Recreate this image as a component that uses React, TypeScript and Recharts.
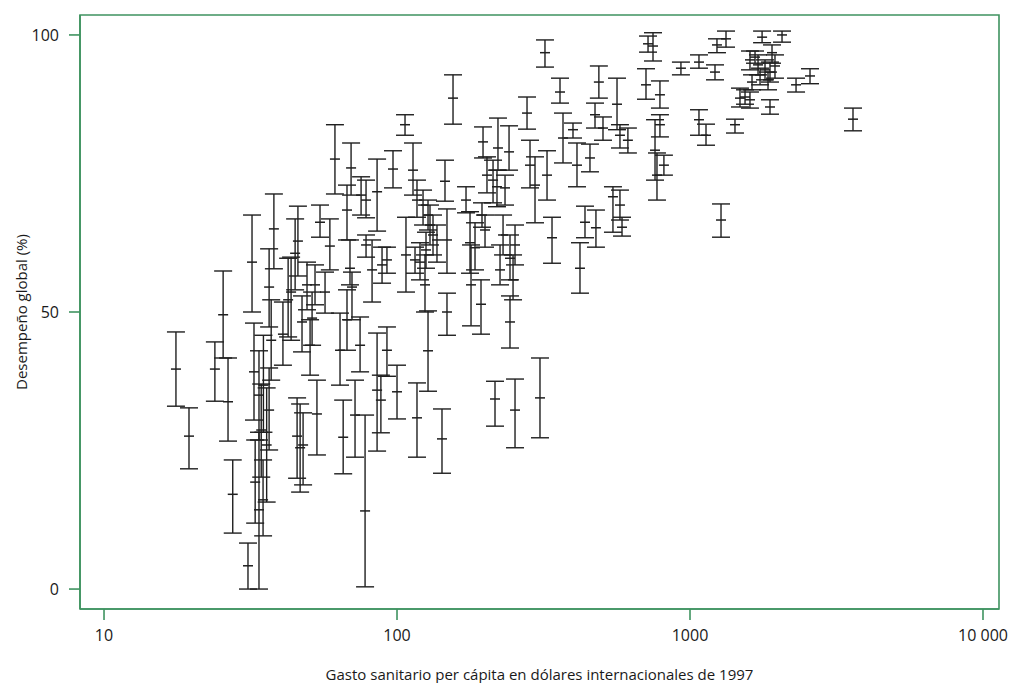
import { ScatterChart, Scatter, XAxis, YAxis, ErrorBar, ReferenceArea } from "recharts";

// gasto sanitario per cápita (dólares internacionales de 1997)
const gasto = [
  17.6, 19.5, 23.9, 25.5, 26.5, 27.5, 31.0, 32.0, 33.8, 32.5,
  35.0, 33.8, 36.6, 34.4, 35.9, 32.8, 34.9, 36.6, 38.0, 37.2,
  40.8, 42.5, 43.5, 45.9, 44.9, 45.6, 46.7, 47.8, 47.4, 49.3,
  50.5, 53.3, 54.6, 59.0, 61.4, 52.5, 56.8, 51.3, 63.9, 67.5,
  65.5, 69.7, 67.5, 69.1, 70.2, 71.9, 74.8, 75.4, 78.4, 77.8,
  82.2, 85.5, 85.5, 88.1, 92.4, 92.4, 88.9, 96.9, 100, 78.4,
  106.5, 107.3, 113.4, 117.0, 122.7, 127.6, 129.6, 132.7, 136.9, 125.6,
  145.8, 148.1, 148.1, 127.6, 117.0, 142.4, 119.8, 124.6, 115.2, 155.3,
  172.0, 178.9, 193.5, 177.5, 184.6, 196.6, 221.1, 241.2, 216.0, 252.8,
  243.0, 307.6, 202.8, 212.7, 219.4, 233.7, 195.0, 199.7, 230.1, 252.8,
  243.0, 224.7, 248.9, 277.8, 284.4, 295.8, 325.1, 319.9, 338.1, 360.0,
  368.6, 398.7, 411.4, 455.6, 438.1, 421.2, 477.5, 488.6, 474.0, 545.8,
  563.5, 504.7, 576.7, 613.8, 576.7, 586.1, 719.0, 747.7, 707.6, 789.6,
  789.6, 759.6, 771.4, 814.6, 1073, 1134, 1424, 931.2, 1073, 1217,
  1236, 1327, 1276, 1762, 2061, 1905, 1667, 1602, 1707, 1803,
  1875, 1950, 1734, 1628, 1846, 1481, 1541, 1602, 1875, 2568,
  2301, 3600,
];

// desempeño global (%), valor central
const desempeno = [
  39.7, 27.6, 39.7, 49.5, 33.8, 17.1, 4.2, 59.0, 14.3, 39.2,
  36.8, 35.0, 32.3, 28.7, 26.0, 19.3, 16.1, 54.5, 65.0, 44.9,
  46.0, 52.2, 53.6, 62.8, 60.6, 27.6, 25.5, 26.0, 48.2, 54.9,
  44.0, 31.6, 66.2, 61.9, 77.6, 54.9, 53.6, 48.9, 43.1, 48.6,
  27.4, 76.0, 68.4, 57.9, 54.5, 31.4, 44.0, 71.1, 70.2, 14.1,
  57.6, 71.7, 35.9, 34.1, 43.1, 59.4, 58.5, 75.8, 35.6, 62.1,
  83.8, 60.3, 75.6, 70.2, 69.3, 67.5, 65.7, 63.9, 63.0, 61.2,
  73.6, 63.0, 50.0, 43.0, 30.9, 27.1, 59.0, 54.9, 59.4, 88.6,
  70.2, 54.9, 51.4, 62.5, 61.6, 80.7, 79.6, 78.9, 34.3, 32.3,
  48.2, 34.5, 74.7, 73.8, 72.6, 72.4, 67.5, 64.8, 63.9, 62.1,
  59.7, 57.6, 55.8, 85.9, 76.5, 72.9, 74.7, 96.8, 63.4, 89.7,
  81.4, 82.9, 76.5, 77.8, 66.2, 57.9, 65.2, 91.5, 85.6, 70.8,
  87.5, 83.2, 81.9, 81.0, 69.3, 65.3, 98.4, 98.0, 91.0, 89.2,
  83.8, 79.2, 74.7, 76.5, 84.7, 81.9, 83.8, 94.0, 95.1, 93.3,
  98.2, 99.3, 66.6, 99.6, 100.0, 96.8, 96.0, 95.5, 94.6, 93.7,
  93.3, 94.4, 92.8, 91.5, 91.9, 88.6, 88.8, 88.3, 87.0, 92.6,
  91.0, 84.8,
];

// límite inferior del intervalo
const limiteInferior = [
  33.0, 21.7, 33.9, 41.7, 26.7, 10.1, 0, 50.0, 0, 30.5,
  28.3, 26.9, 25.1, 20.2, 15.7, 11.9, 9.6, 47.3, 57.8, 37.7,
  40.4, 45.5, 44.9, 56.5, 54.0, 20.0, 17.5, 18.8, 42.8, 50.4,
  38.6, 24.2, 63.5, 57.6, 71.3, 51.3, 49.8, 44.0, 36.8, 43.1,
  20.8, 71.1, 63.0, 54.9, 48.6, 23.8, 39.2, 67.5, 67.0, 0.4,
  51.8, 64.6, 24.9, 28.2, 38.4, 57.0, 55.2, 72.4, 30.7, 59.9,
  81.9, 53.6, 71.1, 67.1, 65.7, 64.8, 62.1, 60.3, 59.0, 57.9,
  70.0, 57.0, 45.8, 35.7, 23.8, 20.9, 55.8, 50.0, 57.0, 83.9,
  67.9, 47.5, 46.0, 57.0, 57.6, 77.8, 75.6, 75.6, 29.4, 25.5,
  43.5, 27.3, 71.5, 69.7, 69.0, 69.3, 65.3, 61.7, 60.3, 58.5,
  55.8, 54.9, 52.2, 83.0, 72.4, 66.1, 70.2, 94.2, 58.8, 87.7,
  76.9, 81.4, 72.6, 75.3, 63.4, 53.4, 61.7, 88.6, 83.2, 64.4,
  82.9, 81.0, 79.6, 78.7, 66.6, 63.7, 96.9, 95.3, 88.4, 86.8,
  81.6, 73.8, 70.2, 74.7, 81.9, 80.1, 82.3, 92.8, 94.0, 91.9,
  96.8, 97.8, 63.5, 98.6, 98.7, 94.9, 94.9, 93.7, 92.8, 91.9,
  91.5, 92.2, 91.0, 90.1, 90.1, 87.0, 87.5, 86.8, 85.7, 91.2,
  89.7, 82.7,
];

// límite superior del intervalo
const limiteSuperior = [
  46.4, 32.7, 44.6, 57.4, 41.7, 23.3, 8.3, 67.5, 28.3, 48.0,
  45.8, 43.0, 39.9, 37.0, 36.3, 26.9, 23.3, 61.4, 71.3, 52.2,
  51.8, 59.7, 59.9, 69.1, 66.8, 34.5, 33.4, 31.8, 52.9, 59.0,
  48.6, 37.7, 69.3, 66.8, 83.8, 58.5, 57.2, 53.6, 49.8, 54.0,
  34.1, 80.5, 72.9, 63.0, 57.2, 37.7, 49.1, 74.4, 73.8, 31.4,
  63.0, 77.6, 46.2, 38.6, 47.3, 61.7, 61.7, 79.1, 40.4, 63.9,
  85.6, 67.1, 80.5, 73.8, 72.0, 70.2, 69.3, 67.5, 65.7, 64.4,
  77.4, 68.6, 53.4, 50.2, 37.2, 32.5, 62.5, 60.3, 61.7, 92.8,
  72.6, 62.1, 55.8, 68.1, 66.1, 83.4, 85.0, 83.6, 37.5, 37.9,
  52.9, 41.7, 78.0, 77.4, 75.6, 74.7, 69.7, 67.5, 67.5, 65.7,
  63.9, 62.1, 60.3, 88.8, 81.0, 78.0, 79.1, 99.1, 67.1, 92.2,
  85.9, 84.1, 80.5, 80.3, 69.1, 62.5, 68.4, 94.4, 87.7, 72.6,
  92.2, 85.2, 83.8, 83.2, 72.0, 67.1, 99.8, 100.4, 93.9, 91.7,
  85.6, 84.7, 78.7, 78.3, 86.5, 83.9, 84.8, 95.1, 96.4, 94.6,
  99.3, 100.7, 69.5, 100.7, 100.7, 98.2, 97.1, 97.1, 96.4, 95.5,
  95.1, 96.4, 94.0, 92.8, 93.3, 90.4, 90.1, 89.7, 88.3, 93.9,
  92.2, 86.8,
];

const xTicks = [10, 100, 1000, 10000];
const yTicks = [0, 50, 100];
const xDomain = [8.28, 11340];
const yDomain = [-3.6, 103.6];

const data = gasto.map((x, i) => ({
  x,
  y: desempeno[i],
  err: [desempeno[i] - limiteInferior[i], limiteSuperior[i] - desempeno[i]],
}));

const AXIS = "#3f9360";
const INK = "#1f1f1f";
const FONT = "'Open Sans', 'Liberation Sans', sans-serif";

// eslint-disable-next-line @typescript-eslint/no-explicit-any
function CenterTick(props: any) {
  const { cx, cy } = props;
  return (
    <line x1={cx - 5} x2={cx + 5} y1={cy} y2={cy} stroke={INK} strokeWidth={1.5} />
  );
}

const fmtX = (v: number) => (v === 10000 ? "10 000" : String(v));

export default function App() {
  return (
    <div style={{ position: "absolute", left: 0, top: 0 }}>
      <ScatterChart
        width={1018}
        height={683}
        margin={{ top: 15, right: 19, left: 0, bottom: 0 }}
        style={{ fontFamily: FONT, background: "#fff" }}
      >
        <XAxis
          dataKey="x"
          type="number"
          scale="log"
          domain={xDomain}
          allowDataOverflow
          ticks={xTicks}
          tickFormatter={fmtX}
          height={74}
          tickSize={11}
          tickMargin={10}
          tick={{ fill: "#1a1a1a", fontSize: 16 }}
          axisLine={{ stroke: AXIS, strokeWidth: 1.6 }}
          tickLine={{ stroke: AXIS, strokeWidth: 1.6 }}
          label={{
            value: "Gasto sanitario per cápita en dólares internacionales de 1997",
            position: "insideBottom",
            offset: 3,
            fill: "#1a1a1a",
            fontSize: 15,
          }}
        />
        <YAxis
          dataKey="y"
          type="number"
          domain={yDomain}
          allowDataOverflow
          ticks={yTicks}
          width={80}
          tickSize={11}
          tickMargin={10}
          tick={{ fill: "#1a1a1a", fontSize: 16 }}
          axisLine={{ stroke: AXIS, strokeWidth: 1.6 }}
          tickLine={{ stroke: AXIS, strokeWidth: 1.6 }}
          label={{
            value: "Desempeño global (%)",
            angle: -90,
            position: "insideLeft",
            offset: 22,
            fill: "#1a1a1a",
            fontSize: 15,
            style: { textAnchor: "middle" },
          }}
        />
        <ReferenceArea
          x1={xDomain[0]}
          x2={xDomain[1]}
          y1={yDomain[0]}
          y2={yDomain[1]}
          fill="none"
          stroke={AXIS}
          strokeWidth={1.6}
          ifOverflow="visible"
        />
        <Scatter data={data} shape={CenterTick} isAnimationActive={false}>
          <ErrorBar
            dataKey="err"
            direction="y"
            width={9}
            stroke={INK}
            strokeWidth={1.4}
            isAnimationActive={false}
          />
        </Scatter>
      </ScatterChart>
    </div>
  );
}
